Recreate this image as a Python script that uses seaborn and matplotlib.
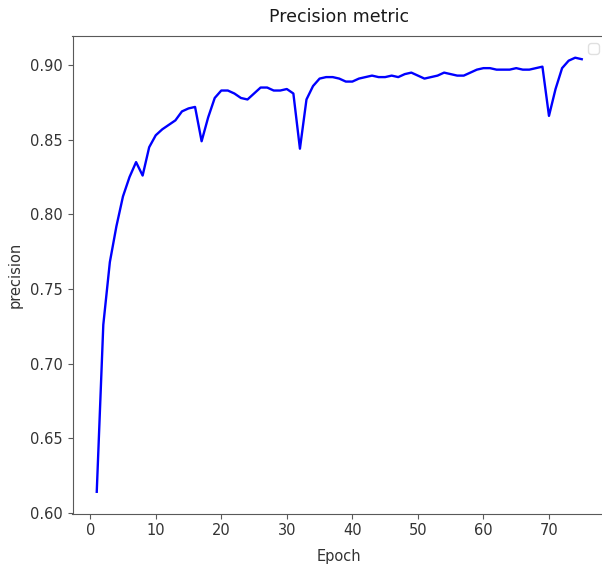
import matplotlib
matplotlib.use("Agg")
import matplotlib.pyplot as plt
import seaborn as sns
import numpy as np

# Values
epochs = list(range(1, 76))
precision = [
    0.614, 0.726, 0.768, 0.792, 0.812, 0.825, 0.835, 0.826, 0.845, 0.853,
    0.857, 0.860, 0.863, 0.869, 0.871, 0.872, 0.849, 0.865, 0.878, 0.883,
    0.883, 0.881, 0.878, 0.877, 0.881, 0.885, 0.885, 0.883, 0.883, 0.884,
    0.881, 0.844, 0.877, 0.886, 0.891, 0.892, 0.892, 0.891, 0.889, 0.889,
    0.891, 0.892, 0.893, 0.892, 0.892, 0.893, 0.892, 0.894, 0.895, 0.893,
    0.891, 0.892, 0.893, 0.895, 0.894, 0.893, 0.893, 0.895, 0.897, 0.898,
    0.898, 0.897, 0.897, 0.897, 0.898, 0.897, 0.897, 0.898, 0.899, 0.866,
    0.884, 0.898, 0.903, 0.905, 0.904,
]
xticks = [0, 10, 20, 30, 40, 50, 60, 70]
yticks = [0.60, 0.65, 0.70, 0.75, 0.80, 0.85, 0.90]

fig = plt.figure(figsize=(6.02, 5.71), dpi=100)
# axes runs a little past the right edge, like the cropped reference
ax = fig.add_axes([72.5 / 602, 57.5 / 571, 533.5 / 602, 477.5 / 571])

sns.lineplot(x=epochs, y=precision, color="blue", linewidth=1.7, ax=ax)

ax.set_xticks(xticks)
ax.set_yticks(yticks)
ax.set_yticklabels([f"{t:.2f}" for t in yticks])
ax.tick_params(labelsize=10.5, colors="0.35", labelcolor="0.2")
for s in ax.spines.values():
    s.set_color("0.35")
ax.set_title("Precision metric", fontsize=12.5, color="0.1", pad=10)
ax.set_xlabel("Epoch", fontsize=10.5, color="0.2", labelpad=8)
ax.set_ylabel("precision", fontsize=10.5, color="0.2", labelpad=5)

# empty legend box (no labelled artists), as in the reference
leg = ax.legend(handles=[], loc="upper right")
leg.get_frame().set_edgecolor("0.85")

fig.savefig("out.png", dpi=100)
